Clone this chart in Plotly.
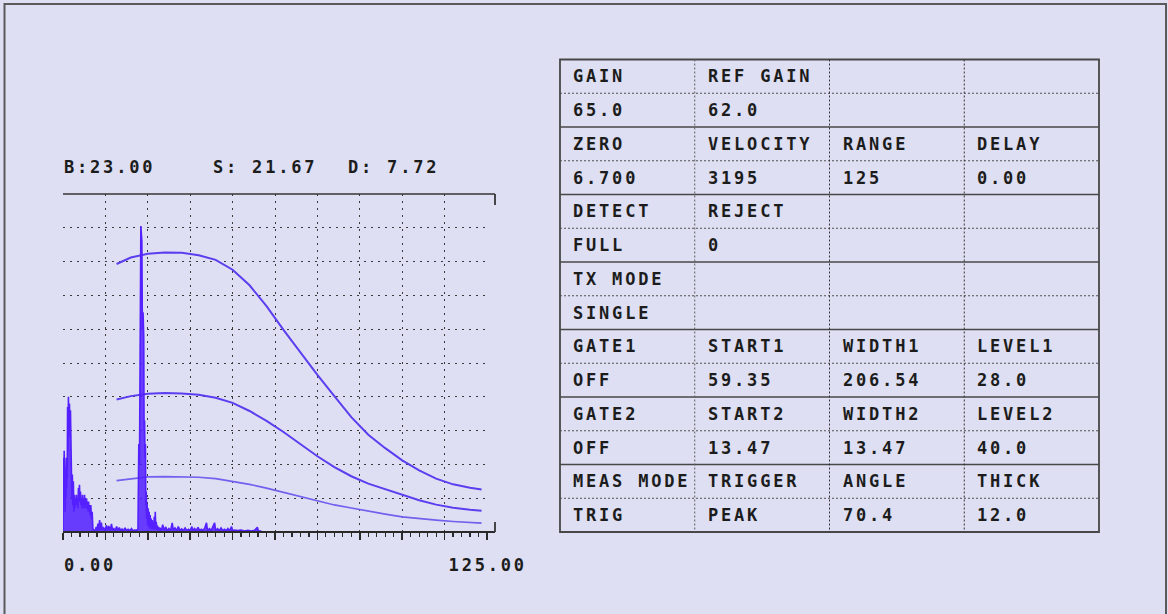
import plotly.graph_objects as go

W, H = 1168, 614
BG = "#dedff2"
FONT = "DejaVu Sans Mono"
TXT = "#1c1c1c"

# ---------------- data ----------------
header_labels = ["B:23.00", "S: 21.67", "D: 7.72"]
x_tick_labels = ["0.00", "125.00"]
x_range = [0, 125]
y_range = [0, 100]

# DAC curves
dac_x = [15.8, 20, 25, 30, 35, 40, 45, 50, 55, 60, 65, 70, 75, 80, 85, 90,
         95, 100, 105, 110, 115, 120, 123.4]
dac_top = [79.3, 81.2, 82.3, 82.7, 82.6, 81.9, 80.5, 77.6, 73.0, 66.8, 59.8,
           53.0, 46.5, 40.2, 34.0, 28.8, 24.8, 21.2, 18.2, 15.8, 14.1, 13.1, 12.6]
dac_mid = [39.2, 40.2, 40.9, 41.1, 41.0, 40.6, 39.7, 38.2, 35.8, 32.9, 29.6,
           26.0, 22.4, 19.2, 16.5, 14.3, 12.6, 10.9, 9.4, 8.1, 7.2, 6.6, 6.3]
dac_low = [15.2, 15.8, 16.3, 16.4, 16.4, 16.2, 15.8, 15.0, 14.1, 13.0, 11.7,
           10.4, 9.1, 8.0, 7.1, 6.1, 5.3, 4.5, 3.9, 3.5, 3.1, 2.8, 2.6]

# A-scan echo signal, (position, amplitude %) samples
ascan_points = [
    # initial pulse
    (0.0, 0.5), (0.05, 15), (0.15, 22), (0.25, 12), (0.35, 24), (0.45, 14),
    (0.55, 19), (0.65, 6), (0.75, 18), (0.85, 10), (0.95, 22), (1.05, 13),
    (1.15, 18), (1.25, 16), (1.35, 37), (1.45, 24), (1.6, 40), (1.75, 28),
    (1.9, 38), (2.05, 31), (2.2, 36), (2.35, 18), (2.5, 19), (2.6, 10),
    (2.75, 17), (2.9, 8), (3.05, 15), (3.2, 6), (3.35, 11), (3.5, 7),
    (3.65, 10), (3.8, 8), (3.95, 11), (4.1, 8), (4.25, 10), (4.4, 7),
    (4.55, 13), (4.7, 9), (4.85, 14), (5.0, 9), (5.15, 12), (5.3, 8),
    (5.45, 10), (5.6, 7), (5.75, 11), (5.9, 8), (6.05, 10), (6.2, 7),
    (6.35, 11), (6.5, 8), (6.65, 10), (6.8, 7), (6.95, 10), (7.1, 7),
    (7.25, 9), (7.4, 6), (7.55, 9), (7.7, 6), (7.85, 8), (8.0, 5),
    (8.2, 8), (8.4, 4), (8.6, 6), (8.8, 1), (9.1, 0.4),
    # noise before the echo
    (9.5, 0.6), (9.8, 1.5), (10.0, 0.4), (10.3, 2.5), (10.5, 0.5), (10.8, 3.5),
    (11.0, 0.5), (11.3, 2.8), (11.6, 0.6), (12.0, 1.2), (12.4, 0.4), (12.8, 2.0),
    (13.1, 0.5), (13.5, 1.8), (13.9, 0.4), (14.3, 2.4), (14.6, 0.5), (15.0, 1.0),
    (15.4, 0.4), (15.8, 1.6), (16.2, 0.5), (16.6, 1.3), (17.0, 0.4), (17.4, 0.9),
    (17.8, 0.4), (18.3, 1.2), (18.7, 0.4), (19.2, 0.8), (19.7, 0.4), (20.2, 1.0),
    (20.6, 0.4), (21.1, 0.6), (21.6, 0.5),
    # echo
    (22.1, 0.8), (22.35, 26), (22.55, 20), (22.95, 90.5), (23.25, 86), (23.4, 60),
    (23.6, 65), (23.8, 58), (23.9, 30), (24.05, 33), (24.15, 22), (24.3, 26),
    (24.4, 8), (24.55, 12), (24.65, 4), (24.8, 8.5), (24.95, 2), (25.1, 7),
    (25.25, 1.5), (25.4, 6), (25.55, 1), (25.7, 5), (25.85, 1.5), (26.0, 4),
    (26.15, 0.8), (26.3, 3.5), (26.45, 1), (26.6, 3), (26.75, 0.6), (26.9, 4.5),
    (27.05, 1), (27.2, 6), (27.35, 0.8), (27.5, 3), (27.65, 0.6), (27.8, 2),
    (28.0, 0.5), (28.2, 1.5), (28.4, 0.5),
    # noise after the echo
    (28.6, 1.2), (29.0, 0.4), (29.4, 2.2), (29.8, 0.5), (30.3, 1.5), (30.7, 0.4),
    (31.2, 1.0), (31.7, 0.4), (32.2, 2.7), (32.5, 0.5), (33.0, 1.2), (33.5, 0.4),
    (34.0, 1.6), (34.5, 0.4), (35.0, 0.9), (35.5, 0.4), (36.0, 1.2), (36.5, 0.4),
    (37.0, 0.8), (37.5, 0.4), (38.0, 1.6), (38.3, 0.4), (38.8, 1.0), (39.3, 0.4),
    (39.8, 1.4), (40.3, 0.4), (40.8, 0.8), (41.3, 0.4), (41.8, 1.2), (42.3, 2.7),
    (42.6, 0.4), (43.2, 1.0), (43.7, 0.4), (44.2, 1.6), (44.7, 2.7), (45.0, 0.4),
    (45.6, 1.0), (46.1, 0.4), (46.6, 1.2), (47.1, 0.4), (47.6, 0.8), (48.1, 0.4),
    (48.6, 1.0), (49.1, 0.4), (49.7, 1.6), (50.0, 0.4), (50.5, 0.6), (51.5, 0.4),
    (52.5, 0.6), (53.5, 0.3), (54.5, 0.5), (55.5, 0.3), (56.5, 0.5), (57.3, 1.4),
    (57.6, 0.3), (58.5, 0.3),
]
ascan_x = [p[0] for p in ascan_points]
ascan_y = [p[1] for p in ascan_points]

# parameter table
table_cells = [
    ["GAIN", "REF GAIN", "", ""],
    ["65.0", "62.0", "", ""],
    ["ZERO", "VELOCITY", "RANGE", "DELAY"],
    ["6.700", "3195", "125", "0.00"],
    ["DETECT", "REJECT", "", ""],
    ["FULL", "0", "", ""],
    ["TX MODE", "", "", ""],
    ["SINGLE", "", "", ""],
    ["GATE1", "START1", "WIDTH1", "LEVEL1"],
    ["OFF", "59.35", "206.54", "28.0"],
    ["GATE2", "START2", "WIDTH2", "LEVEL2"],
    ["OFF", "13.47", "13.47", "40.0"],
    ["MEAS MODE", "TRIGGER", "ANGLE", "THICK"],
    ["TRIG", "PEAK", "70.4", "12.0"],
]

# ---------------- layout geometry (pixels) ----------------
PL, PR, PT, PB = 63, 487, 194, 532   # plot area
FR = 495                              # frame right end
TL, TR, TT, TB = 560, 1099, 59.5, 532  # table box


def px(x):
    return x / W


def py(y):
    return 1 - y / H


fig = go.Figure()

curve_style = [("#5b3ef0", 2.0), ("#5b3ef0", 2.0), ("#7260ee", 1.7)]
for ys, (c, w) in zip([dac_top, dac_mid, dac_low], curve_style):
    fig.add_trace(go.Scatter(x=dac_x, y=ys, mode="lines",
                             line=dict(color=c, width=w),
                             hoverinfo="skip", showlegend=False))

fig.add_trace(go.Scatter(x=ascan_x, y=ascan_y, mode="lines",
                         line=dict(color="#5420ff", width=1.6),
                         fill="tozeroy", fillcolor="rgba(84,32,255,0.85)",
                         hoverinfo="skip", showlegend=False, cliponaxis=False))

shapes = []
LINE = "#474747"

# outer image border
shapes.append(dict(type="rect", xref="paper", yref="paper",
                   x0=px(4.5), x1=px(1166), y0=py(640), y1=py(4),
                   line=dict(color="#5a5a5a", width=2)))

# plot frame: top solid line with bracket, bottom axis line with bracket
FRAME = "#353535"
shapes.append(dict(type="line", xref="paper", yref="paper",
                   x0=px(PL), x1=px(FR), y0=py(PT), y1=py(PT),
                   line=dict(color=FRAME, width=1.6)))
shapes.append(dict(type="line", xref="paper", yref="paper",
                   x0=px(FR), x1=px(FR), y0=py(PT), y1=py(PT + 11),
                   line=dict(color=FRAME, width=1.8)))
shapes.append(dict(type="line", xref="paper", yref="paper",
                   x0=px(PL), x1=px(FR), y0=py(PB), y1=py(PB),
                   line=dict(color="#2a2a2a", width=1.8)))
shapes.append(dict(type="line", xref="paper", yref="paper",
                   x0=px(FR), x1=px(FR), y0=py(PB), y1=py(PB - 10),
                   line=dict(color=FRAME, width=1.8)))

# table
nrows = len(table_cells)
ncols = len(table_cells[0])
rh = (TB - TT) / nrows
cw = (TR - TL) / ncols
shapes.append(dict(type="rect", xref="paper", yref="paper",
                   x0=px(TL), x1=px(TR), y0=py(TB), y1=py(TT),
                   line=dict(color=LINE, width=1.8)))
for i in range(1, nrows):
    yy = TT + i * rh
    if i % 2 == 0:
        ln = dict(color=LINE, width=1.7)
    else:
        ln = dict(color="#505050", width=1, dash="2px,2px")
    shapes.append(dict(type="line", xref="paper", yref="paper",
                       x0=px(TL), x1=px(TR), y0=py(yy), y1=py(yy), line=ln))
for j in range(1, ncols):
    xx = TL + j * cw
    shapes.append(dict(type="line", xref="paper", yref="paper",
                       x0=px(xx), x1=px(xx), y0=py(TT), y1=py(TB),
                       line=dict(color="#333333" if j > 1 else "#5e5e5e",
                                 width=1, dash="2px,2px")))

annotations = []
font = dict(family=FONT, size=17, color=TXT, weight="bold")
for i, row in enumerate(table_cells):
    for j, t in enumerate(row):
        if not t:
            continue
        annotations.append(dict(text=t, xref="paper", yref="paper",
                                x=px(TL + j * cw + 11), y=py(TT + (i + 0.5) * rh),
                                xanchor="left", yanchor="middle", align="left",
                                showarrow=False, font=font))

for t, xp in zip(header_labels, [62, 211, 346]):
    annotations.append(dict(text=t, xref="paper", yref="paper",
                            x=px(xp), y=py(167), xanchor="left", yanchor="middle",
                            align="left", showarrow=False, font=font))

annotations.append(dict(text=x_tick_labels[0], xref="x", yref="paper",
                        x=x_range[0], y=py(565), xanchor="left", yanchor="middle",
                        align="left", showarrow=False, font=font, xshift=-1))
annotations.append(dict(text=x_tick_labels[1], xref="x", yref="paper",
                        x=x_range[1], y=py(565), xanchor="center", yanchor="middle",
                        showarrow=False, font=font))

fig.update_layout(
    width=W, height=H,
    margin=dict(l=0, r=0, t=0, b=0),
    paper_bgcolor=BG, plot_bgcolor=BG,
    shapes=shapes, annotations=annotations,
    xaxis=dict(domain=[px(PL), px(PR)], range=x_range, dtick=12.5, tick0=0,
               showgrid=True, gridcolor="#3a3a3a", gridwidth=1, griddash="2px,5px",
               zeroline=False, showline=False, showticklabels=False,
               ticks="outside", ticklen=7, tickwidth=1.5, tickcolor="#2a2a2a",
               minor=dict(dtick=2.5, ticks="outside", ticklen=4, tickwidth=1.2,
                          tickcolor="#2a2a2a", showgrid=False),
               fixedrange=True),
    yaxis=dict(domain=[py(PB), py(PT)], range=y_range, dtick=10, tick0=0,
               showgrid=True, gridcolor="#3a3a3a", gridwidth=1, griddash="2px,5px",
               zeroline=False, showline=False, showticklabels=False, ticks="",
               fixedrange=True),
)

post = (
    "document.body.style.margin='0';document.body.style.overflow='hidden';"
    "var gd=document.getElementById('{plot_id}');"
    "gd.querySelectorAll('.annotation-text').forEach(function(e){"
    "e.style.letterSpacing='2.8px';});"
)

fig.write_html("out.html", config={"displayModeBar": False, "staticPlot": True},
               post_script=post)
